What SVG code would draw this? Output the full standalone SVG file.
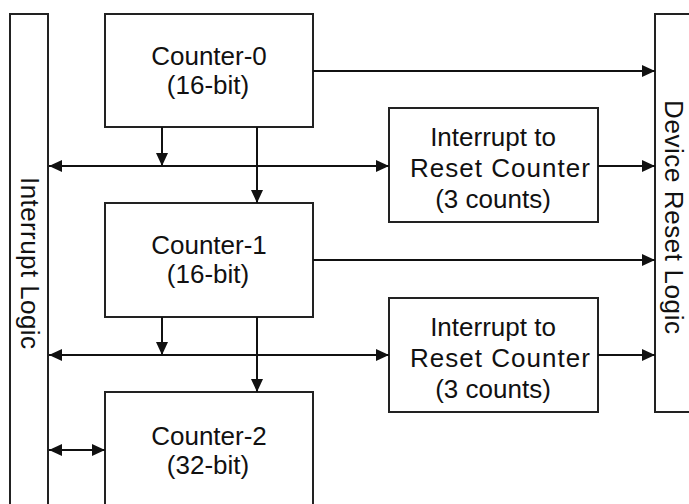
<svg xmlns="http://www.w3.org/2000/svg" width="689" height="504" viewBox="0 0 689 504">
<style>
.box{fill:#fff;stroke:#222;stroke-width:2}
.t{font-family:"Liberation Sans",Arial,sans-serif;font-size:26px;fill:#111;text-anchor:middle}
.c{fill:none;stroke:#111;stroke-width:2}
</style>
<defs>
<marker id="ah" markerUnits="userSpaceOnUse" markerWidth="14" markerHeight="14" viewBox="0 0 14 14" refX="13" refY="7" orient="auto-start-reverse">
<path d="M0,1 L13,7 L0,13 Z" fill="#111"/>
</marker>
</defs>
<rect width="689" height="504" fill="#fff"/>
<g id="interrupt-logic">
<rect class="box" x="10" y="14" width="38" height="500"/>
<text class="t" transform="translate(30,263) rotate(90)" dy="9" textLength="172">Interrupt Logic</text>
</g>
<g id="device-reset-logic">
<rect class="box" x="655" y="14" width="50" height="398"/>
<text class="t" transform="translate(675,217) rotate(90)" dy="10" textLength="234">Device Reset Logic</text>
</g>
<g id="counter-0">
<rect class="box" x="105" y="14" width="208" height="113"/>
<text class="t" x="209" y="65">Counter-0</text>
<text class="t" x="208" y="94">(16-bit)</text>
</g>
<g id="counter-1">
<rect class="box" x="105" y="203" width="208" height="114"/>
<text class="t" x="209" y="254">Counter-1</text>
<text class="t" x="208" y="283">(16-bit)</text>
</g>
<g id="counter-2">
<rect class="box" x="105" y="392" width="208" height="130"/>
<text class="t" x="209" y="445">Counter-2</text>
<text class="t" x="208" y="474">(32-bit)</text>
</g>
<g id="reset-counter-1">
<rect class="box" x="389" y="108" width="209" height="114"/>
<text class="t" x="493" y="146">Interrupt to</text>
<text class="t" x="500" y="177" textLength="180">Reset Counter</text>
<text class="t" x="493" y="208">(3 counts)</text>
</g>
<g id="reset-counter-2">
<rect class="box" x="389" y="298" width="209" height="114"/>
<text class="t" x="493" y="336">Interrupt to</text>
<text class="t" x="500" y="367" textLength="180">Reset Counter</text>
<text class="t" x="493" y="398">(3 counts)</text>
</g>
<g id="connectors">
<line class="c" x1="313" y1="71" x2="655" y2="71" marker-end="url(#ah)"/>
<line class="c" x1="162" y1="127" x2="162" y2="166" marker-end="url(#ah)"/>
<line class="c" x1="49" y1="166" x2="389" y2="166" marker-start="url(#ah)" marker-end="url(#ah)"/>
<line class="c" x1="257" y1="127" x2="257" y2="203" marker-end="url(#ah)"/>
<line class="c" x1="598" y1="166" x2="655" y2="166" marker-end="url(#ah)"/>
<line class="c" x1="313" y1="260" x2="655" y2="260" marker-end="url(#ah)"/>
<line class="c" x1="162" y1="317" x2="162" y2="355" marker-end="url(#ah)"/>
<line class="c" x1="49" y1="355" x2="389" y2="355" marker-start="url(#ah)" marker-end="url(#ah)"/>
<line class="c" x1="257" y1="317" x2="257" y2="392" marker-end="url(#ah)"/>
<line class="c" x1="598" y1="355" x2="655" y2="355" marker-end="url(#ah)"/>
<line class="c" x1="49" y1="450" x2="105" y2="450" marker-start="url(#ah)" marker-end="url(#ah)"/>
</g>
</svg>
